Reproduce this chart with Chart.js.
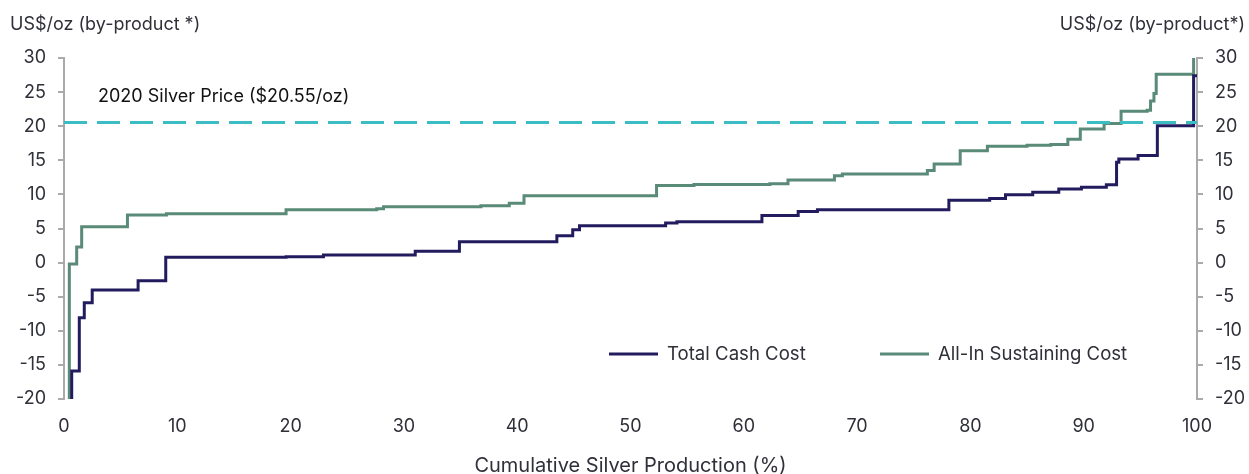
<!DOCTYPE html>
<html>
<head>
<meta charset="utf-8">
<script src="https://cdn.jsdelivr.net/npm/chart.js@4"></script>
<style>
html,body{margin:0;padding:0;background:#fff;}
#wrap{width:1249px;height:474px;position:relative;}
</style>
</head>
<body>
<div id="wrap"><canvas id="c" width="1249" height="474"></canvas></div>
<script>
// ---- Data ----
const tccX = [0, 0.68, 1.35, 1.79, 2.49, 6.54, 8.98, 19.6, 22.9, 31.0, 34.9, 43.5, 44.9, 45.5, 53.1, 54.1, 61.6, 64.8, 66.5, 78.1, 81.7, 83.1, 85.5, 87.8, 89.8, 92.0, 92.9, 93.1, 94.8, 96.5, 99.7, 100];
const tccY = [-30, -15.9, -8.1, -5.9, -4.0, -2.65, 0.78, 0.87, 1.1, 1.65, 3.05, 3.95, 4.8, 5.4, 5.8, 6.0, 6.9, 7.5, 7.75, 9.15, 9.4, 9.96, 10.3, 10.8, 11.05, 11.4, 14.7, 15.2, 15.7, 20.05, 27.4, 27.4];
const aiscX = [0, 0.47, 1.12, 1.56, 5.6, 9.04, 19.6, 27.6, 28.2, 36.8, 39.3, 40.6, 52.3, 55.6, 62.3, 63.9, 68.0, 68.7, 76.2, 76.8, 79.1, 81.5, 85.0, 87.1, 88.6, 89.7, 91.8, 93.3, 95.6, 95.9, 96.2, 96.4, 99.7, 100];
const aiscY = [-30, -0.2, 2.3, 5.27, 6.98, 7.17, 7.76, 7.9, 8.2, 8.35, 8.7, 9.8, 11.3, 11.45, 11.55, 12.1, 12.75, 13.0, 13.5, 14.45, 16.4, 17.05, 17.2, 17.3, 18.1, 19.6, 20.4, 22.2, 22.35, 23.7, 24.8, 27.6, 31, 31];
const silverPrice = 20.55;
const priceX = [0, 100];
const seriesNames = ['Total Cash Cost', 'All-In Sustaining Cost'];
const priceLabel = '2020 Silver Price ($20.55/oz)';
const leftAxisTitle = 'US$/oz (by-product *)';
const rightAxisTitle = 'US$/oz (by-product*)';
const xAxisTitle = 'Cumulative Silver Production (%)';

const NAVY = '#221c5e';
const GREEN = '#5a8a78';
const TEAL = '#3cbcc3';
const TEXT = '#2f3038';
const FONT = 'Inter, "Noto Sans", sans-serif';

const toPts = (xs, ys) => xs.map((x, i) => ({x: x, y: ys[i]}));

const extras = {
  id: 'extras',
  afterDraw(chart) {
    const ctx = chart.ctx;
    const ys = chart.scales.y;
    ctx.save();
    ctx.fillStyle = TEXT;
    ctx.font = '18px ' + FONT;
    ctx.textBaseline = 'middle';
    ctx.textAlign = 'left';
    ctx.fillText(leftAxisTitle, 10, 25);
    ctx.textAlign = 'right';
    ctx.fillText(rightAxisTitle, 1245, 25);
    // price annotation
    ctx.textAlign = 'left';
    ctx.fillStyle = '#111';
    ctx.fillText(priceLabel, 98, ys.getPixelForValue(24.4));
    // legend
    ctx.font = '18.6px ' + FONT;
    const ly = 354;
    const items = [
      {c: chart.data.datasets[1].borderColor, t: chart.data.datasets[1].label, x0: 609},
      {c: chart.data.datasets[2].borderColor, t: chart.data.datasets[2].label, x0: 880}
    ];
    items.forEach(it => {
      ctx.strokeStyle = it.c;
      ctx.lineWidth = 3;
      ctx.beginPath();
      ctx.moveTo(it.x0, ly);
      ctx.lineTo(it.x0 + 49, ly);
      ctx.stroke();
      ctx.fillStyle = TEXT;
      ctx.fillText(it.t, it.x0 + 58, ly);
    });
    ctx.restore();
  }
};

new Chart(document.getElementById('c'), {
  type: 'line',
  data: {
    datasets: [
      {
        label: 'price',
        data: toPts(priceX, priceX.map(() => silverPrice)),
        borderColor: TEAL,
        borderWidth: 3,
        borderDash: [23, 10],
        pointRadius: 0,
        order: 0
      },
      {
        label: seriesNames[0],
        data: toPts(tccX, tccY),
        borderColor: NAVY,
        borderWidth: 3,
        stepped: 'before',
        pointRadius: 0,
        order: 1
      },
      {
        label: seriesNames[1],
        data: toPts(aiscX, aiscY),
        borderColor: GREEN,
        borderWidth: 3,
        stepped: 'before',
        pointRadius: 0,
        order: 2
      }
    ]
  },
  options: {
    responsive: false,
    animation: false,
    layout: {padding: {top: 58, left: 0, right: 0, bottom: 0}},
    plugins: {legend: {display: false}, tooltip: {enabled: false}},
    scales: {
      x: {
        type: 'linear',
        min: 0, max: 100,
        ticks: {stepSize: 10, color: TEXT, font: {family: FONT, size: 18}, padding: 17},
        grid: {display: false, drawTicks: false},
        border: {display: false},
        title: {display: true, text: xAxisTitle, color: TEXT, font: {family: FONT, size: 20, lineHeight: 0.8}, padding: {top: 0, bottom: 0}},
        afterFit(s) { s.height = 75; }
      },
      y: {
        position: 'left',
        min: -20, max: 30,
        ticks: {stepSize: 5, color: TEXT, font: {family: FONT, size: 18}, padding: 12},
        grid: {drawOnChartArea: false, color: '#aaaaaa', tickLength: 6, lineWidth: 2},
        border: {display: true, color: '#aaaaaa', width: 2},
        afterFit(s) { s.width = 64; }
      },
      y2: {
        position: 'right',
        min: -20, max: 30,
        ticks: {stepSize: 5, color: TEXT, font: {family: FONT, size: 18}, padding: 12},
        grid: {drawOnChartArea: false, color: '#aaaaaa', tickLength: 6, lineWidth: 2},
        border: {display: true, color: '#aaaaaa', width: 2},
        afterFit(s) { s.width = 52; }
      }
    }
  },
  plugins: [extras]
});
</script>
</body>
</html>
